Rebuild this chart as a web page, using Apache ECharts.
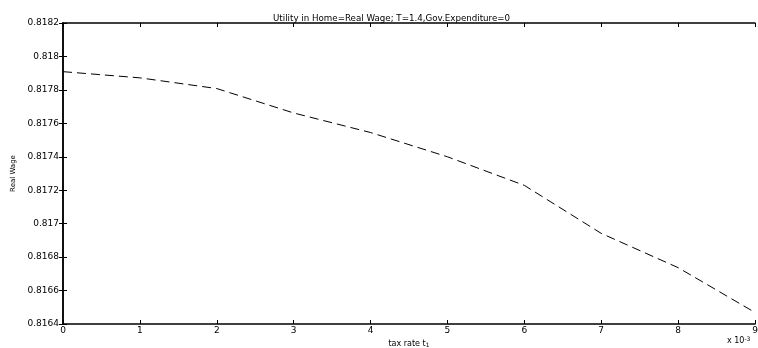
<!DOCTYPE html>
<html>
<head>
<meta charset="utf-8">
<script src="https://cdn.jsdelivr.net/npm/echarts@6/dist/echarts.min.js"></script>
<style>
  html, body { margin: 0; padding: 0; background: #fff; }
  #chart { width: 758px; height: 348px; }
</style>
</head>
<body>
<div id="chart"></div>
<script>
// Tax rate t1, in units of 1e-3
const taxRate = [0, 1, 2, 3, 4, 5, 6, 7, 8, 9];
// Real wage at each tax rate
const realWage = [0.817909, 0.817872, 0.817808, 0.817662, 0.817545,
                  0.817400, 0.817229, 0.816942, 0.816737, 0.816469];
const xTicks = [0, 1, 2, 3, 4, 5, 6, 7, 8, 9];
const yTicks = [0.8164, 0.8166, 0.8168, 0.817, 0.8172, 0.8174, 0.8176, 0.8178, 0.818, 0.8182];

const FONT = 'DejaVu Sans';
const chart = echarts.init(document.getElementById('chart'), null, { renderer: 'canvas' });

const baseAxis = {
  type: 'value',
  axisLine: { show: true, lineStyle: { color: '#000', width: 1.5 } },
  axisTick: { show: true, inside: true, length: 4, lineStyle: { color: '#000', width: 1 } },
  splitLine: { show: false },
  axisLabel: { color: '#000', fontFamily: FONT, fontSize: 9 }
};

chart.setOption({
  animation: false,
  backgroundColor: '#fff',
  title: {
    text: 'Utility in Home=Real Wage; T=1.4,Gov.Expenditure=0',
    left: 268, top: 9,
    textStyle: { color: '#000', fontFamily: FONT, fontSize: 8.7, fontWeight: 'normal' }
  },
  grid: { left: 63, right: 3, top: 23, bottom: 24, containLabel: false, outerBoundsMode: 'none' },
  xAxis: [
    Object.assign({}, baseAxis, {
      position: 'bottom',
      min: xTicks[0], max: xTicks[xTicks.length - 1], interval: 1,
      axisLabel: Object.assign({}, baseAxis.axisLabel, { margin: 2 }),
      name: '{t|tax rate t}{s|1}',
      nameLocation: 'middle', nameGap: 12,
      nameTextStyle: {
        rich: {
          t: { color: '#000', fontFamily: FONT, fontSize: 8 },
          s: { color: '#000', fontFamily: FONT, fontSize: 6, verticalAlign: 'bottom', padding: [4, 0, 0, 0] }
        }
      }
    }),
    Object.assign({}, baseAxis, {
      position: 'top',
      min: xTicks[0], max: xTicks[xTicks.length - 1], interval: 1,
      axisLabel: { show: false }
    })
  ],
  yAxis: [
    Object.assign({}, baseAxis, {
      position: 'left',
      min: yTicks[0], max: yTicks[yTicks.length - 1], interval: 0.0002,
      axisLabel: Object.assign({}, baseAxis.axisLabel, { margin: 4 }),
      name: 'Real Wage',
      nameLocation: 'middle', nameGap: 46, nameRotate: 90,
      nameTextStyle: { color: '#000', fontFamily: FONT, fontSize: 7 }
    }),
    Object.assign({}, baseAxis, {
      position: 'right',
      min: yTicks[0], max: yTicks[yTicks.length - 1], interval: 0.0002,
      axisLabel: { show: false }
    })
  ],
  graphic: [{
    type: 'text',
    left: 727, top: 336,
    style: {
      text: '{b|x 10}{e|-3}',
      rich: {
        b: { fill: '#000', fontFamily: FONT, fontSize: 8 },
        e: { fill: '#000', fontFamily: FONT, fontSize: 6, verticalAlign: 'top', padding: [0, 0, 4, 0] }
      }
    }
  }],
  series: [{
    type: 'line',
    data: taxRate.map((t, i) => [t, realWage[i]]),
    showSymbol: false,
    lineStyle: { color: '#000', width: 1, type: [9, 5] },
    silent: true
  }]
});
</script>
</body>
</html>
